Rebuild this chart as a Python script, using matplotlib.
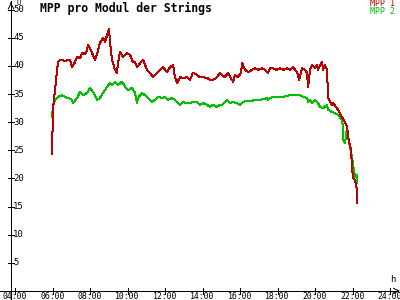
import matplotlib
matplotlib.use('Agg')
import matplotlib.pyplot as plt

# time in hours, MPP voltage per module
t_mpp1 = [5.97, 6.03, 6.19, 6.29, 6.40, 6.67, 6.93, 7.04, 7.20, 7.31, 7.47, 7.57, 7.73, 7.84, 7.89,
          8.00, 8.11, 8.27, 8.43, 8.53, 8.69, 8.80, 8.91, 9.01, 9.07, 9.17, 9.23, 9.33, 9.44, 9.49,
          9.60, 9.76, 9.97, 10.13, 10.29, 10.40, 10.51, 10.67, 10.83, 11.04, 11.20, 11.36, 11.57,
          11.73, 11.89, 12.11, 12.27, 12.43, 12.53, 12.64, 12.80, 12.96, 13.17, 13.33, 13.49, 13.71,
          13.87, 14.03, 14.24, 14.40, 14.56, 14.77, 14.93, 15.04, 15.20, 15.36, 15.57, 15.63, 15.73,
          15.89, 16.05, 16.11, 16.27, 16.43, 16.64, 16.80, 16.96, 17.17, 17.33, 17.49, 17.60, 17.76,
          17.97, 18.13, 18.29, 18.51, 18.67, 18.83, 19.04, 19.15, 19.31, 19.47, 19.57, 19.63, 19.73,
          19.84, 20.00, 20.11, 20.16, 20.27, 20.37, 20.43, 20.53, 20.64, 20.69, 20.80, 20.91, 20.96,
          21.17, 21.33, 21.44, 21.60, 21.71, 21.76, 21.81, 21.92, 21.97, 22.03, 22.13, 22.24, 22.25]
mpp1 = [24.4, 32.5, 37.5, 40.7, 41.1, 40.9, 41.1, 39.8, 40.7, 41.6, 41.4, 42.3, 42.1, 42.8, 43.7,
        43.2, 42.3, 41.1, 42.8, 44.1, 45.0, 44.3, 45.5, 46.6, 44.1, 41.1, 40.5, 39.3, 38.8, 40.5,
        42.5, 41.6, 42.3, 42.0, 40.7, 40.7, 39.8, 40.5, 41.1, 39.3, 38.8, 38.0, 38.8,
        39.3, 39.8, 38.9, 39.8, 40.2, 38.0, 37.0, 38.0, 37.9, 38.0, 37.5, 38.8, 38.4,
        38.0, 38.0, 37.9, 37.5, 37.5, 38.0, 38.8, 38.4, 38.0, 38.8, 37.5, 37.2, 38.4,
        38.0, 38.8, 40.5, 39.3, 38.9, 39.3, 39.6, 39.3, 39.6, 39.3, 38.8, 39.6, 39.6,
        39.3, 39.6, 39.3, 39.6, 39.3, 39.8, 38.9, 37.5, 39.6, 39.3, 38.8, 36.3, 39.3,
        40.2, 39.6, 40.2, 39.3, 40.2, 40.7, 39.3, 40.2, 39.3, 34.5, 33.6, 33.1, 33.4,
        32.5, 31.6, 30.9, 30.0, 29.2, 27.7, 26.5, 25.1, 22.0, 20.1, 19.7, 18.0, 15.6]

t_mpp2 = [5.97, 6.03, 6.13, 6.29, 6.51, 6.67, 6.83, 7.04, 7.09, 7.31, 7.47, 7.63, 7.84, 8.00, 8.16,
          8.37, 8.53, 8.69, 8.91, 9.07, 9.17, 9.33, 9.49, 9.71, 9.87, 10.03, 10.24, 10.40, 10.51,
          10.56, 10.77, 10.93, 11.09, 11.31, 11.47, 11.63, 11.84, 12.00, 12.16, 12.37, 12.53, 12.69,
          12.80, 12.96, 13.17, 13.33, 13.49, 13.71, 13.87, 14.03, 14.24, 14.40, 14.56, 14.77, 14.93,
          15.04, 15.20, 15.31, 15.47, 15.63, 15.84, 16.00, 16.16, 16.37, 16.64, 16.80, 17.07, 17.23,
          17.44, 17.49, 17.71, 17.97, 18.13, 18.29, 18.51, 18.67, 18.83, 19.04, 19.20, 19.36, 19.57,
          19.63, 19.73, 19.84, 20.00, 20.16, 20.27, 20.43, 20.64, 20.69, 20.91, 21.07, 21.23, 21.33,
          21.44, 21.49, 21.50, 21.60, 21.71, 21.76, 21.87, 21.97, 22.03, 22.13, 22.24, 22.25]
mpp2 = [30.9, 33.1, 34.0, 34.5, 34.8, 34.5, 34.3, 34.0, 33.4, 34.3, 35.4, 34.8, 35.2, 36.1, 35.4,
        34.0, 34.3, 35.2, 36.3, 37.0, 36.6, 37.2, 36.6, 37.2, 36.3, 35.7, 36.1, 35.2, 33.4,
        34.3, 35.2, 34.8, 34.3, 33.6, 34.0, 34.5, 34.3, 34.5, 34.0, 34.3, 34.0, 33.4,
        33.1, 33.6, 33.4, 33.4, 33.6, 33.6, 33.1, 33.4, 33.1, 32.7, 33.1, 32.7, 33.1,
        33.1, 33.6, 34.0, 33.4, 33.6, 33.4, 33.1, 33.6, 33.8, 33.8, 34.0, 34.0, 34.1,
        34.3, 34.0, 34.5, 34.5, 34.5, 34.5, 34.7, 34.8, 34.8, 34.8, 34.8, 34.5, 34.3,
        33.6, 34.0, 33.4, 34.0, 33.4, 32.7, 32.5, 33.1, 32.2, 31.8, 31.6, 31.3, 30.9,
        30.4, 29.0, 26.8, 26.3, 29.2, 27.2, 25.6, 23.8, 22.4, 20.3, 20.6, 19.2]

x_ticks = [4, 6, 8, 10, 12, 14, 16, 18, 20, 22, 24]
x_labels = ['04:00', '06:00', '08:00', '10:00', '12:00', '14:00', '16:00', '18:00',
            '20:00', '22:00', '24:00']
y_ticks = [5, 10, 15, 20, 25, 30, 35, 40, 45, 50]

RED = '#c00000'
GREEN = '#00c000'
mono = 'DejaVu Sans Mono'
LW = 0.72  # one pixel at 100 dpi

fig = plt.figure(figsize=(4, 3), dpi=100)
ax = fig.add_axes([0, 0, 1, 1])
ax.set_xlim(3.2, 24.53)
ax.set_ylim(-1.6, 51.73)
ax.axis('off')

x0 = 3.787  # position of the vertical axis

# axes with arrows
ax.plot([x0, x0], [-1.6, 51.5], color='black', lw=LW, antialiased=False)
ax.plot([3.2, 24.45], [0, 0], color='black', lw=LW, antialiased=False)
ax.annotate('', xy=(x0, 51.8), xytext=(x0, 50.8),
            arrowprops=dict(arrowstyle='->', lw=0.7, color='black'))
ax.annotate('', xy=(24.53, 0), xytext=(24.25, 0),
            arrowprops=dict(arrowstyle='->', lw=0.7, color='black'))
ax.text(x0 + 0.3, 51.73, 'U', fontsize=5, family=mono, va='top', ha='left')
ax.text(24.13, 1.2, 'h', fontsize=6.5, family=mono, va='bottom', ha='center')

for v in y_ticks:
    ax.plot([x0 - 0.16, x0 + 0.16], [v, v], color='black', lw=LW, antialiased=False)
    ax.text(x0 + 0.12, v, str(v), fontsize=6.5, family=mono, va='center', ha='left')
for t, lab in zip(x_ticks, x_labels):
    ax.plot([t, t], [-0.55, 0.55], color='black', lw=LW, antialiased=False)
    ax.text(t, -0.25, lab, fontsize=5.9, family=mono, va='top', ha='center')

ax.plot(t_mpp2, mpp2, color=GREEN, lw=LW, antialiased=False)
ax.plot(t_mpp1, mpp1, color=RED, lw=LW, antialiased=False)

fig.text(40 / 400, 1 - 8 / 300, 'MPP pro Modul der Strings', fontsize=8.3, family=mono,
         weight='bold', va='center', ha='left')
fig.text(395 / 400, 1 - 4 / 300, 'MPP 1', fontsize=6, family=mono, color=RED,
         va='center', ha='right')
fig.text(395 / 400, 1 - 12 / 300, 'MPP 2', fontsize=6, family=mono, color=GREEN,
         va='center', ha='right')

fig.savefig('out.png', dpi=100, facecolor='white')
